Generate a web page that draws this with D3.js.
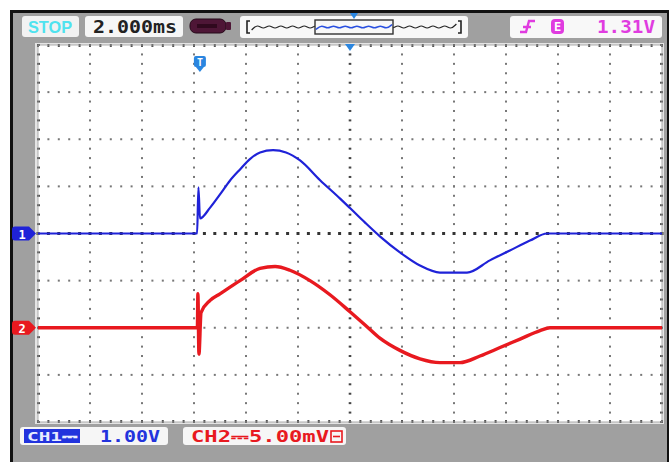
<!DOCTYPE html>
<html>
<head>
<meta charset="utf-8">
<script src="https://cdn.jsdelivr.net/npm/d3@7"></script>
<style>
  body { margin: 0; background: #fff; }
  svg { display: block; }
  text { font-family: "DejaVu Sans Mono", monospace; font-weight: bold; }
</style>
</head>
<body>
<div id="scope"></div>
<script>
// trace data: time in ms (0 = centre), ch1 in volts, ch2 in mV
var ch1Time = [-12, -5.88, -5.83, -5.77, -5.38, -5.0, -4.62, -4.23, -3.85, -3.46, -2.96, -2.46, -1.92, -1.15, -0.38, 0, 0.58, 1.15, 1.92, 2.69, 3.46, 4.5, 5.38, 6.15, 6.92, 7.58, 12];
var ch1Volts = [0, 0, 0.98, 0.32, 0.55, 0.83, 1.12, 1.36, 1.58, 1.72, 1.77, 1.72, 1.55, 1.13, 0.74, 0.54, 0.23, -0.06, -0.40, -0.68, -0.83, -0.83, -0.57, -0.36, -0.15, 0, 0];
var ch2Time = [-12, -5.92, -5.87, -5.85, -5.81, -5.73, -5.38, -5.0, -4.23, -3.46, -2.88, -2.31, -1.54, -0.77, 0, 0.58, 1.15, 1.92, 2.69, 3.46, 4.23, 5.0, 5.77, 6.54, 7.31, 7.69, 12];
var ch2mV = [0, 0, 0, 3.6, -2.8, 1.6, 2.9, 3.6, 5.0, 6.3, 6.5, 6.1, 5.0, 3.5, 1.7, 0.3, -1.1, -2.4, -3.3, -3.7, -3.7, -3.0, -2.1, -1.2, -0.3, 0, 0];

var timeBase = "2.000ms", ch1Scale = "1.00V", ch2Scale = "CH2\u23935.00mV", trigLevel = "1.31V";
var msPerDiv = 2, ch1VoltsPerDiv = 1, ch2mVPerDiv = 5, ch1Offset = 0, ch2Offset = -2;

var W = 669, H = 464,
    gx0 = 38, gx1 = 662, gy0 = 45, gy1 = 422;

var svg = d3.select("#scope").append("svg").attr("width", W).attr("height", H);

// frame
svg.append("rect").attr("x", 0).attr("y", 0).attr("width", W).attr("height", H).attr("fill", "#fff");
svg.append("rect").attr("x", 10).attr("y", 10).attr("width", W - 10).attr("height", 452).attr("fill", "#111");
svg.append("rect").attr("x", 13).attr("y", 13).attr("width", W - 15).attr("height", 449).attr("fill", "#a0a0a0");
svg.append("rect").attr("x", 35).attr("y", gy0 - 2).attr("width", gx1 - 35 + 2).attr("height", gy1 - gy0 + 4).attr("fill", "#e4e4e4");
svg.append("rect").attr("x", gx0).attr("y", gy0).attr("width", gx1 - gx0).attr("height", gy1 - gy0).attr("fill", "#fff");

// scales: divisions
var x = d3.scaleLinear().domain([-6 * msPerDiv, 6 * msPerDiv]).range([gx0, gx1]);
var yDiv = d3.scaleLinear().domain([-4, 4]).range([gy1, gy0]);
var y1 = function(v) { return yDiv(v / ch1VoltsPerDiv + ch1Offset); };
var y2 = function(v) { return yDiv(v / ch2mVPerDiv + ch2Offset); };

// grid dots
var grid = svg.append("g");
var minorX = d3.range(-6, 6.01, 0.2), minorY = d3.range(-4, 4.01, 0.2);
d3.range(-5, 6).forEach(function(d) {
  var big = d === 0;
  grid.selectAll(null).data(minorY).enter().append("rect")
    .attr("x", x(d * msPerDiv) - (big ? 1.3 : 1)).attr("y", function(v) { return yDiv(v) - 1; })
    .attr("width", big ? 2.6 : 2).attr("height", 2)
    .attr("fill", big ? "#444" : "#777");
});
d3.range(-3, 4).forEach(function(d) {
  var big = d === 0;
  grid.selectAll(null).data(minorX).enter().append("rect")
    .attr("x", function(v) { return x(v * msPerDiv) - (big ? 1.5 : 1); }).attr("y", yDiv(d) - (big ? 1.5 : 1))
    .attr("width", big ? 3 : 2).attr("height", big ? 3 : 2)
    .attr("fill", big ? "#333" : "#777");
});
// border ticks
grid.selectAll(null).data(minorX).enter().append("rect")
  .attr("x", function(v) { return x(v * msPerDiv) - 1; }).attr("y", gy0 - 1).attr("width", 2).attr("height", 3).attr("fill", "#555");
grid.selectAll(null).data(minorX).enter().append("rect")
  .attr("x", function(v) { return x(v * msPerDiv) - 1; }).attr("y", gy1 - 2).attr("width", 2).attr("height", 3).attr("fill", "#555");
grid.selectAll(null).data(minorY).enter().append("rect")
  .attr("x", gx0 - 1).attr("y", function(v) { return yDiv(v) - 1; }).attr("width", 3).attr("height", 2).attr("fill", "#555");
grid.selectAll(null).data(minorY).enter().append("rect")
  .attr("x", gx1 - 2).attr("y", function(v) { return yDiv(v) - 1; }).attr("width", 3).attr("height", 2).attr("fill", "#555");
svg.append("rect").attr("x", gx0).attr("y", gy0).attr("width", gx1 - gx0).attr("height", gy1 - gy0)
  .attr("fill", "none").attr("stroke", "#999").attr("stroke-width", 0.8);

// traces
var curve = d3.curveMonotoneX;
var line1 = d3.line().x(function(d, i) { return x(ch1Time[i]); }).y(function(d) { return y1(d); }).curve(curve);
var line2 = d3.line().x(function(d, i) { return x(ch2Time[i]); }).y(function(d) { return y2(d); }).curve(curve);
svg.append("path").datum(ch2mV).attr("d", line2).attr("fill", "none").attr("stroke", "#e8191f").attr("stroke-width", 3.4).attr("stroke-linejoin", "round");
svg.append("path").datum(ch1Volts).attr("d", line1).attr("fill", "none").attr("stroke", "#1f22d8").attr("stroke-width", 2.2).attr("stroke-linejoin", "round");

// channel markers
function marker(yy, col, label) {
  var g = svg.append("g").attr("transform", "translate(12," + yy + ")");
  g.append("path").attr("d", "M3,-7 L17,-7 L24,0 L17,7 L3,7 Q0,7 0,4 L0,-4 Q0,-7 3,-7 Z").attr("fill", col);
  g.append("text").attr("x", 10).attr("y", 5).attr("text-anchor", "middle").attr("fill", "#fff").attr("font-size", 12).attr("font-weight", "normal").text(label);
}
marker(y1(0), "#1f22d8", "1");
marker(y2(0), "#e8191f", "2");

// trigger markers
var tg = svg.append("g").attr("transform", "translate(" + (x(-5.85) + 2) + ",56)");
tg.append("rect").attr("x", -6).attr("y", 0).attr("width", 12).attr("height", 11).attr("rx", 2).attr("fill", "#2a86e0");
tg.append("path").attr("d", "M-4,11 L4,11 L0,16 Z").attr("fill", "#2a86e0");
tg.append("text").attr("x", 0).attr("y", 9.5).attr("text-anchor", "middle").attr("fill", "#fff").attr("font-size", 10).text("T");
svg.append("path").attr("d", "M" + (x(0) - 5) + "," + (gy0 - 1) + " L" + (x(0) + 5) + "," + (gy0 - 1) + " L" + x(0) + "," + (gy0 + 6) + " Z").attr("fill", "#2a86e0");

// top status bar
function box(x0, y0, w, h, fill) {
  return svg.append("rect").attr("x", x0).attr("y", y0).attr("width", w).attr("height", h).attr("rx", 3).attr("fill", fill);
}
box(22, 16, 57, 21, "#f2f2f2");
svg.append("text").attr("x", 28).attr("y", 33).attr("fill", "#4fe3ef").attr("font-size", 17).attr("font-weight", "normal")
  .style("font-family", "'Liberation Sans', Arial, sans-serif")
  .attr("textLength", 44).attr("lengthAdjust", "spacingAndGlyphs").text("STOP");
box(85, 16, 98, 21, "#f6f6f6");
svg.append("text").attr("x", 93).attr("y", 33).attr("fill", "#222").attr("font-size", 18)
  .attr("textLength", 84).attr("lengthAdjust", "spacingAndGlyphs").text(timeBase);
// memory indicator
svg.append("rect").attr("x", 190).attr("y", 19).attr("width", 36).attr("height", 14).attr("rx", 6).attr("fill", "#4e1636").attr("stroke", "#250818").attr("stroke-width", 1);
svg.append("rect").attr("x", 226).attr("y", 22).attr("width", 5).attr("height", 8).attr("rx", 1).attr("fill", "#4e1636");
svg.append("rect").attr("x", 197).attr("y", 24).attr("width", 20).attr("height", 4).attr("fill", "#30091e");
// memory overview
box(240, 16, 228, 22, "#f8f8f8");
var ov = d3.scaleLinear().domain([-32, 32]).range([250, 458]);
var ovTicks = d3.range(-31.5, 31.6, 1.8);
var squig = d3.line().x(function(d) { return ov(d); }).y(function(d, i) { return 27 + (i % 2 ? -3 : 3); }).curve(d3.curveBasis);
svg.append("path").datum(ovTicks).attr("d", squig).attr("fill", "none").attr("stroke", "#222").attr("stroke-width", 1.2);
svg.append("path").attr("d", "M250,21 L247,21 L247,33 L250,33 M458,21 L461,21 L461,33 L458,33").attr("fill", "none").attr("stroke", "#222").attr("stroke-width", 1.6);
svg.append("rect").attr("x", ov(-12)).attr("y", 20).attr("width", ov(12) - ov(-12)).attr("height", 14).attr("fill", "#f8f8f8").attr("stroke", "#333").attr("stroke-width", 1.4);
svg.append("path").datum(ovTicks.filter(function(d) { return d > -12 && d < 12; }))
  .attr("d", d3.line().x(function(d) { return ov(d); }).y(function(d, i) { return 27 + (i % 2 ? -2.5 : 2.5); }).curve(d3.curveBasis))
  .attr("fill", "none").attr("stroke", "#2a50e0").attr("stroke-width", 1.5);
svg.append("path").attr("d", "M" + (ov(0) - 4) + ",13 L" + (ov(0) + 4) + ",13 L" + ov(0) + ",19 Z").attr("fill", "#2a86e0");
// trigger info
box(510, 16, 152, 22, "#f8f8f8");
svg.append("path").attr("d", "M520,32 L526,32 L529,21 L535,21 M523,27 L531,27").attr("fill", "none").attr("stroke", "#e03ce0").attr("stroke-width", 2.4);
svg.append("rect").attr("x", 551).attr("y", 19).attr("width", 13).attr("height", 15).attr("rx", 4).attr("fill", "#e03ce0");
svg.append("text").attr("x", 557.5).attr("y", 31).attr("text-anchor", "middle").attr("fill", "#fff").attr("font-size", 12).text("E");
svg.append("text").attr("x", 597).attr("y", 33).attr("fill", "#e03ce0").attr("font-size", 17).attr("font-weight", "normal")
  .attr("textLength", 58).attr("lengthAdjust", "spacingAndGlyphs").text(trigLevel);

// bottom channel bar
box(20, 427, 148, 18, "#f6f6f6");
svg.append("rect").attr("x", 24).attr("y", 429).attr("width", 56).attr("height", 14).attr("fill", "#2233dd");
svg.append("text").attr("x", 27).attr("y", 441).attr("fill", "#e8ecff").attr("font-size", 13)
  .attr("textLength", 50).attr("lengthAdjust", "spacingAndGlyphs").text("CH1\u2393");
svg.append("text").attr("x", 100).attr("y", 442).attr("fill", "#2233dd").attr("font-size", 16).attr("font-weight", "normal")
  .attr("textLength", 60).attr("lengthAdjust", "spacingAndGlyphs").text(ch1Scale);
box(183, 427, 163, 18, "#f6f6f6");
svg.append("text").attr("x", 191).attr("y", 442).attr("fill", "#e8191f").attr("font-size", 16).attr("font-weight", "normal")
  .attr("textLength", 138).attr("lengthAdjust", "spacingAndGlyphs").text(ch2Scale);
svg.append("rect").attr("x", 331).attr("y", 431).attr("width", 11).attr("height", 11).attr("fill", "none").attr("stroke", "#e8191f").attr("stroke-width", 1.6);
svg.append("path").attr("d", "M333,436.5 L340,436.5").attr("stroke", "#e8191f").attr("stroke-width", 1.6);
</script>
</body>
</html>
